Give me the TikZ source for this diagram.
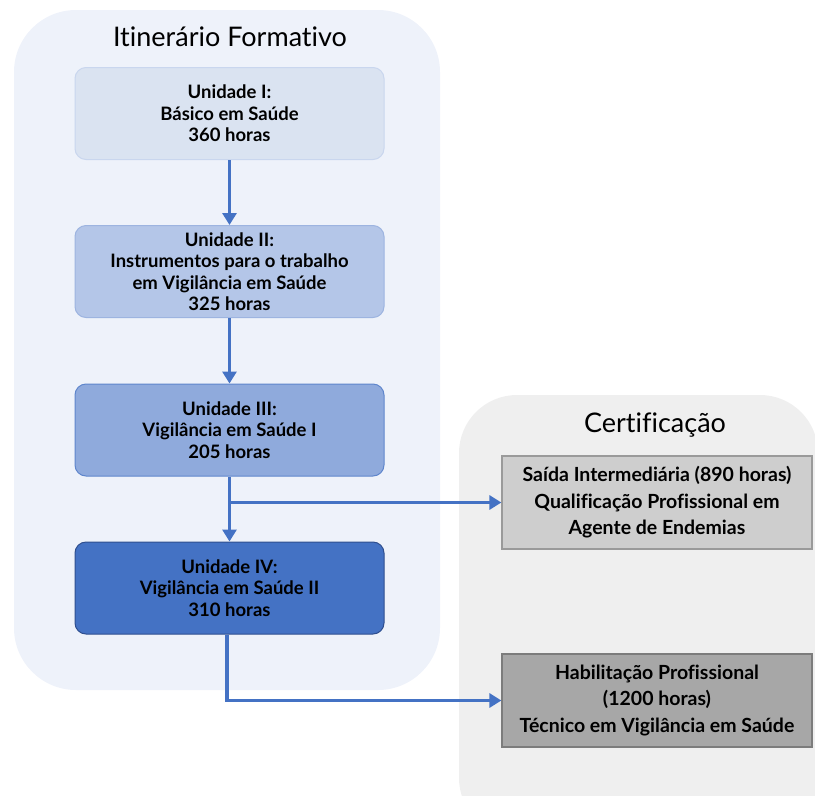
\documentclass[tikz,border=0pt]{standalone}
\usepackage{fontspec}
\setmainfont{Lato}[Ligatures=NoCommon]
\usetikzlibrary{arrows.meta}
\definecolor{panelA}{HTML}{EEF2FA}
\definecolor{panelB}{HTML}{EFEFEF}
\definecolor{fillI}{HTML}{DAE3F1}
\definecolor{drawI}{HTML}{C9D6EE}
\definecolor{fillII}{HTML}{B4C6E8}
\definecolor{drawII}{HTML}{9DB4E0}
\definecolor{fillIII}{HTML}{8FAADC}
\definecolor{drawIII}{HTML}{5F86CC}
\definecolor{fillIV}{HTML}{4472C4}
\definecolor{drawIV}{HTML}{2F4F8F}
\definecolor{fillS}{HTML}{CECECE}
\definecolor{drawS}{HTML}{9A9A9A}
\definecolor{fillH}{HTML}{A7A7A7}
\definecolor{drawH}{HTML}{7C7C7C}
\definecolor{arrowc}{HTML}{4472C4}
\begin{document}
\begin{tikzpicture}[x=1pt,y=-1pt,
  unit/.style={rounded corners=11pt, line width=1pt, minimum width=309pt, minimum height=92pt,
    align=center, font=\fontsize{18.5}{21.5}\selectfont\bfseries, inner sep=0pt},
  cert/.style={line width=1.2pt, minimum width=310pt, minimum height=93pt,
    align=center, font=\fontsize{19.5}{26.5}\selectfont\bfseries, inner sep=0pt},
  conn/.style={draw=arrowc, line width=3.6pt},
  arr/.style={conn, -{Triangle[length=12pt,width=14pt]}},
  ptitle/.style={font=\fontsize{27}{30}\selectfont, inner sep=0pt}]
\useasboundingbox (0,0) rectangle (815,796);
\begin{scope}
\clip (0,0) rectangle (815,796);
\fill[panelA, rounded corners=62pt] (14,10) rectangle (440,690);
\fill[panelB, rounded corners=58pt] (459,395) rectangle (818,836);
\end{scope}
\node[ptitle] (t1) at (230,37) {Itinerário Formativo};
\node[ptitle] (t2) at (655,425) {Certificação};
\node[unit, fill=fillI, draw=drawI] (u1) at (229.5,113.5) {Unidade I:\\Básico em Saúde\\360 horas};
\node[unit, fill=fillII, draw=drawII] (u2) at (229.5,271.5) {Unidade II:\\Instrumentos para o trabalho\\em Vigilância em Saúde\\325 horas};
\node[unit, fill=fillIII, draw=drawIII] (u3) at (229.5,430) {Unidade III:\\Vigilância em Saúde I\\205 horas};
\node[unit, fill=fillIV, draw=drawIV] (u4) at (229.5,588) {Unidade IV:\\Vigilância em Saúde II\\310 horas};
\node[cert, fill=fillS, draw=drawS] (s) at (657,502.5) {Saída Intermediária (890 horas)\\Qualificação Profissional em\\Agente de Endemias};
\node[cert, fill=fillH, draw=drawH] (h) at (657,700.5) {Habilitação Profissional\\(1200 horas)\\Técnico em Vigilância em Saúde};
\draw[arr] (u1.south) -- (u2.north);
\draw[arr] (u2.south) -- (u3.north);
\draw[arr] (u3.south) -- (u4.north);
\coordinate (j) at (u3.south |- s.west);
\draw[arr] (j) -- (s.west);
\coordinate (b) at ([xshift=-2.5pt]u4.south);
\draw[arr] (b) |- (h.west);
\end{tikzpicture}
\end{document}
